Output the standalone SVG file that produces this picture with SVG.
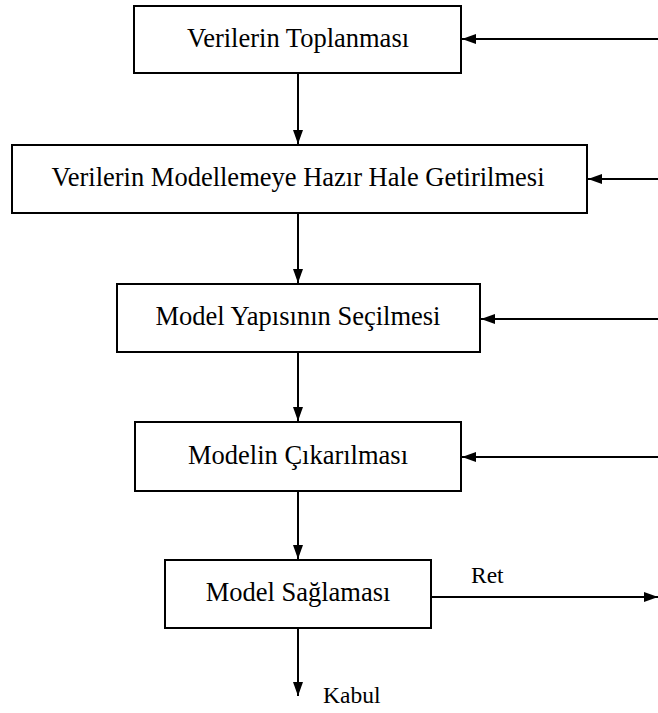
<svg xmlns="http://www.w3.org/2000/svg" width="658" height="713" viewBox="0 0 658 713">
<style>
.box{fill:#fff;stroke:#000;stroke-width:2}
.t{font-size:26.5px;fill:#000;text-anchor:middle}
.l{font-size:23.5px;fill:#000}
.c{stroke:#000;stroke-width:2;fill:none;marker-end:url(#ah)}
</style>
<defs>
<marker id="ah" markerWidth="14" markerHeight="10" refX="14" refY="5" orient="auto" markerUnits="userSpaceOnUse">
<path d="M0,0 L14,5 L0,10 Z" fill="#000"/>
</marker>
</defs>
<rect width="658" height="713" fill="#fff"/>
<g font-family="'Liberation Serif', 'Times New Roman', 'DejaVu Serif', serif">
<g id="connectors">
<line class="c" x1="298" y1="73" x2="298" y2="144"/>
<line class="c" x1="298" y1="213" x2="298" y2="283"/>
<line class="c" x1="298" y1="352" x2="298" y2="421"/>
<line class="c" x1="298" y1="491" x2="298" y2="559"/>
<line class="c" x1="298" y1="628" x2="298" y2="696"/>
<line class="c" x1="658" y1="39" x2="462" y2="39"/>
<line class="c" x1="658" y1="179" x2="588" y2="179"/>
<line class="c" x1="658" y1="319" x2="481" y2="319"/>
<line class="c" x1="658" y1="457" x2="462" y2="457"/>
<line class="c" x1="431" y1="597" x2="658" y2="597"/>
<text class="l" x="471" y="583">Ret</text>
<text class="l" x="323" y="703">Kabul</text>
</g>
<g id="n1"><rect class="box" x="134" y="6" width="327" height="67"/><text class="t" x="298" y="46.5">Verilerin Toplanması</text></g>
<g id="n2"><rect class="box" x="12" y="145" width="575" height="68"/><text class="t" x="298" y="186">Verilerin Modellemeye Hazır Hale Getirilmesi</text></g>
<g id="n3"><rect class="box" x="117" y="284" width="363" height="68"/><text class="t" x="298" y="325">Model Yapısının Seçilmesi</text></g>
<g id="n4"><rect class="box" x="135" y="422" width="326" height="69"/><text class="t" x="298" y="463.5">Modelin Çıkarılması</text></g>
<g id="n5"><rect class="box" x="165" y="560" width="266" height="68"/><text class="t" x="298" y="601">Model Sağlaması</text></g>
</g>
</svg>
